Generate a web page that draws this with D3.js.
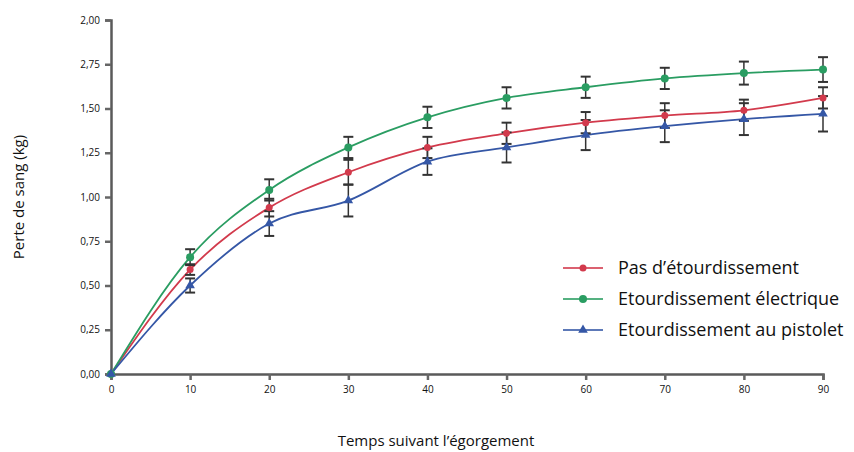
<!DOCTYPE html>
<html>
<head>
<meta charset="utf-8">
<script src="https://cdn.jsdelivr.net/npm/d3@7"></script>
<style>
  body { margin: 0; background: #fff; }
  text { font-family: "Open Sans", "Noto Sans", sans-serif; }
</style>
</head>
<body>
<div id="chart"></div>
<script>
// data
const times = [0, 10, 20, 30, 40, 50, 60, 70, 80, 90];
const yTicks = [0, 0.25, 0.5, 0.75, 1, 1.25, 1.5, 1.75, 2];
const yTickLabels = ["0,00", "0,25", "0,50", "0,75", "1,00", "1,25", "1,50", "2,75", "2,00"];

const noStun = [0, 0.59, 0.94, 1.14, 1.28, 1.36, 1.42, 1.46, 1.49, 1.56];
const noStunErr = [0, 0.03, 0.05, 0.07, 0.06, 0.06, 0.06, 0.07, 0.06, 0.06];
const electric = [0, 0.66, 1.04, 1.28, 1.45, 1.56, 1.62, 1.67, 1.70, 1.72];
const electricErr = [0, 0.045, 0.06, 0.06, 0.06, 0.06, 0.06, 0.06, 0.065, 0.07];
const pistol = [0, 0.50, 0.85, 0.98, 1.20, 1.28, 1.35, 1.40, 1.44, 1.47];
const pistolErr = [0, 0.04, 0.07, 0.09, 0.075, 0.085, 0.085, 0.09, 0.09, 0.1];

const seriesNames = ["Pas d\u2019\u00e9tourdissement", "Etourdissement \u00e9lectrique", "Etourdissement au pistolet"];
const seriesColors = ["#d23a4c", "#2a9d62", "#3557a6"];

const series = [
  { name: seriesNames[0], color: seriesColors[0], values: noStun, err: noStunErr, shape: "circle" },
  { name: seriesNames[1], color: seriesColors[1], values: electric, err: electricErr, shape: "circle" },
  { name: seriesNames[2], color: seriesColors[2], values: pistol, err: pistolErr, shape: "triangle" }
];

const width = 854, height = 452;
const margin = { left: 111, right: 31, top: 20, bottom: 78 };

const svg = d3.select("#chart").append("svg")
    .attr("width", width)
    .attr("height", height);

const x = d3.scaleLinear().domain([0, 90]).range([margin.left, width - margin.right]);
const y = d3.scaleLinear().domain([0, 2]).range([height - margin.bottom, margin.top]);

// axes
const yAxis = svg.append("g")
    .attr("transform", `translate(${margin.left},0)`)
    .call(d3.axisLeft(y).tickValues(yTicks).tickSize(6).tickPadding(5)
        .tickFormat((d, i) => yTickLabels[i]));
const xAxis = svg.append("g")
    .attr("transform", `translate(0,${y(0)})`)
    .call(d3.axisBottom(x).tickValues(times).tickSize(6).tickPadding(6));

[xAxis, yAxis].forEach(ax => {
    ax.select(".domain").attr("stroke", "#5a5a5a").attr("stroke-width", 2.5);
    ax.selectAll(".tick line").attr("stroke", "#666").attr("stroke-width", 2.5);
    ax.selectAll(".tick text").attr("fill", "#111").style("font-size", "10px");
});

// axis titles
svg.append("text")
    .attr("transform", `translate(24,${y(1)}) rotate(-90)`)
    .attr("text-anchor", "middle")
    .style("font-size", "15px")
    .attr("fill", "#111")
    .text("Perte de sang (kg)");
svg.append("text")
    .attr("x", 436)
    .attr("y", 446)
    .attr("text-anchor", "middle")
    .style("font-size", "15px")
    .attr("fill", "#111")
    .text("Temps suivant l\u2019\u00e9gorgement");

const line = d3.line()
    .x((d, i) => x(times[i]))
    .y(d => y(d))
    .curve(d3.curveMonotoneX);

const triangle = d3.symbol().type(d3.symbolTriangle).size(40);

series.forEach(s => {
    svg.append("path")
        .datum(s.values)
        .attr("fill", "none")
        .attr("stroke", s.color)
        .attr("stroke-width", 1.8)
        .attr("d", line);
});

// error bars
series.forEach(s => {
    const g = svg.append("g");
    s.values.forEach((v, i) => {
        if (!s.err[i]) return;
        const cx = x(times[i]);
        const y1 = y(v + s.err[i]), y2 = y(v - s.err[i]);
        g.append("line").attr("x1", cx).attr("x2", cx).attr("y1", y1).attr("y2", y2)
            .attr("stroke", "#333").attr("stroke-width", 1.5);
        [y1, y2].forEach(yy => {
            g.append("line").attr("x1", cx - 5).attr("x2", cx + 5).attr("y1", yy).attr("y2", yy)
                .attr("stroke", "#333").attr("stroke-width", 2);
        });
    });
});

// markers
series.forEach(s => {
    const g = svg.append("g").attr("fill", s.color);
    s.values.forEach((v, i) => {
        if (s.shape === "circle") {
            g.append("circle").attr("cx", x(times[i])).attr("cy", y(v)).attr("r", s.color === seriesColors[1] ? 4 : 3.5);
        } else {
            g.append("path").attr("d", triangle)
                .attr("transform", `translate(${x(times[i])},${y(v)})`);
        }
    });
});

// legend
const legend = svg.append("g").attr("transform", "translate(563,268)");
series.forEach((s, i) => {
    const row = legend.append("g").attr("transform", `translate(0,${i * 31})`);
    row.append("line").attr("x1", 0).attr("x2", 40).attr("y1", 0).attr("y2", 0)
        .attr("stroke", s.color).attr("stroke-width", 2).attr("stroke-opacity", 0.8);
    if (s.shape === "circle") {
        row.append("circle").attr("cx", 20).attr("cy", 0).attr("r", i === 1 ? 4 : 3.5).attr("fill", s.color);
    } else {
        row.append("path").attr("d", triangle).attr("transform", "translate(20,0)").attr("fill", s.color);
    }
    row.append("text")
        .attr("x", 55)
        .attr("y", 6)
        .style("font-size", "18px")
        .attr("fill", "#111")
        .text(s.name);
});
</script>
</body>
</html>
